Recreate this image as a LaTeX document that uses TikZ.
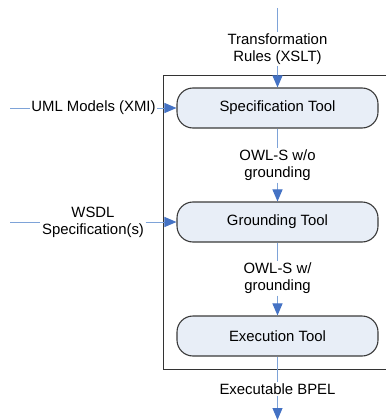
\documentclass[tikz,border=0pt]{standalone}
\usepackage{fontspec}
\setmainfont{Liberation Sans}
\usetikzlibrary{arrows.meta}
\definecolor{linec}{HTML}{7EA3D8}
\definecolor{headc}{HTML}{4472C4}
\definecolor{boxfill}{HTML}{E8EEF7}
\definecolor{boxdraw}{HTML}{3A3A3A}
\begin{document}
\begin{tikzpicture}[x=1pt,y=-1pt,
 tool/.style={draw=boxdraw, line width=1.1pt, fill=boxfill, rounded corners=16pt, minimum width=201pt, minimum height=40pt, inner sep=0pt, font=\fontsize{14.9}{17}\selectfont},
 lbl/.style={align=center, inner sep=1.5pt, font=\fontsize{14.9}{17}\selectfont},
 flow/.style={draw=linec, line width=1pt},
 arr/.style={flow, -{Triangle[length=12pt,width=10pt,color=headc]}}]
\useasboundingbox (0,0) rectangle (386,420);
\draw[line width=1pt, draw=black!80] (386,75) -- (163,75) -- (163,369) -- (386,369);
\node[tool] (spec) at (277.5,108) {Specification Tool};
\node[tool] (gr) at (277.5,222) {Grounding Tool};
\node[tool] (ex) at (277.5,336) {Execution Tool};
\coordinate (tin) at (277.5,8);
\node[lbl] (tl) at (277.5,49) {Transformation\\Rules (XSLT)};
\draw[flow] (tin) -- (tl);
\draw[arr] (tl) -- (spec);
\coordinate (uin) at (10,108);
\node[lbl] (ul) at (93.5,108) {UML Models (XMI)};
\draw[flow] (uin) -- (ul);
\draw[arr] (ul) -- (spec);
\coordinate (win) at (10,222);
\node[lbl] (wl) at (93,222) {WSDL\\Specification(s)};
\draw[flow] (win) -- (wl);
\draw[arr] (wl) -- (gr);
\node[lbl] (o1) at (277.5,165.5) {OWL-S w/o\\grounding};
\draw[flow] (spec) -- (o1);
\draw[arr] (o1) -- (gr);
\node[lbl] (o2) at (277.5,278.5) {OWL-S w/\\grounding};
\draw[flow] (gr) -- (o2);
\draw[arr] (o2) -- (ex);
\node[lbl] (bl) at (277.5,389) {Executable BPEL};
\coordinate (bout) at (277.5,420);
\draw[flow] (ex) -- (bl);
\draw[arr] (bl) -- (bout);
\end{tikzpicture}
\end{document}
